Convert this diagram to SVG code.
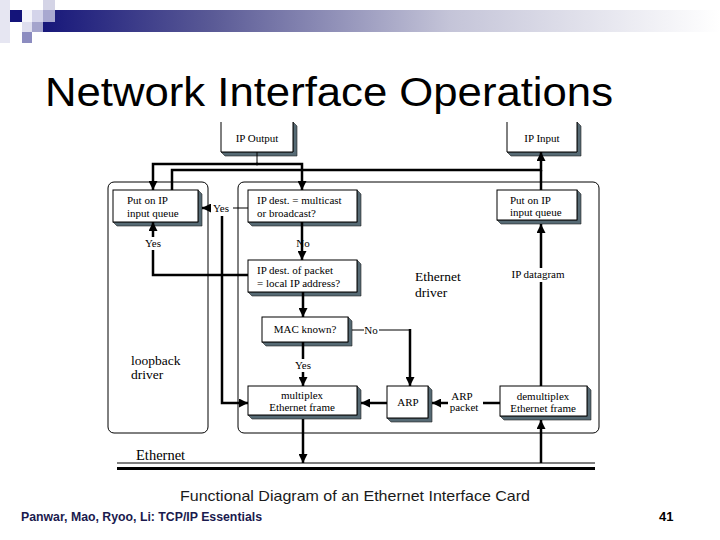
<svg xmlns="http://www.w3.org/2000/svg" width="720" height="540" viewBox="0 0 720 540">
<defs>
<linearGradient id="bar" x1="0" y1="0" x2="1" y2="0">
<stop offset="0" stop-color="#17177a"/>
<stop offset="0.25" stop-color="#5a5a96"/>
<stop offset="0.6" stop-color="#c4c4d8"/>
<stop offset="1" stop-color="#ffffff"/>
</linearGradient>
<marker id="ah" viewBox="0 0 10 10" refX="10" refY="5" markerWidth="9" markerHeight="9" markerUnits="userSpaceOnUse" orient="auto">
<path d="M0,0 L10,5 L0,10 z" fill="#000"/>
</marker>
</defs>
<style>
.box{fill:#fff;stroke:#000;stroke-width:1}
.sh{fill:#566a74;stroke:#222;stroke-width:0.6}
.cont{fill:none;stroke:#000;stroke-width:1}
.t{font-family:"Liberation Serif",serif;font-size:11px;fill:#000}
.tl{font-family:"Liberation Serif",serif;font-size:13.5px;fill:#000}
.thick{fill:none;stroke:#000;stroke-width:2.5}
.thin{fill:none;stroke:#000;stroke-width:1}
</style>
<rect width="720" height="540" fill="#fff"/>
<g id="header">
<rect x="43" y="10" width="677" height="22" fill="url(#bar)"/>
<rect x="0" y="0" width="10" height="43" fill="#e6e6f2"/>
<rect x="10" y="10" width="12" height="12" fill="#14147a"/>
<rect x="22" y="10" width="10" height="12" fill="#f4f4fa"/>
<rect x="32" y="10" width="11" height="12" fill="#d4d4ea"/>
<rect x="43" y="0" width="12" height="10" fill="#d4d4e6"/>
<rect x="43" y="10" width="12" height="12" fill="#a8a8d0"/>
<rect x="32" y="22" width="11" height="10" fill="#a4a4cc"/>
<rect x="22" y="22" width="10" height="10" fill="#dedeee"/>
<rect x="22" y="32" width="10" height="11" fill="#8c8cc0"/>
</g>
<text x="45" y="106" font-family="Liberation Sans, Arial, sans-serif" font-size="41" textLength="568" lengthAdjust="spacingAndGlyphs" fill="#000">Network Interface Operations</text>

<g id="loopback-driver">
<rect class="cont" x="108" y="182" width="100" height="251" rx="6"/>
<text class="tl" x="131" y="365">loopback</text>
<text class="tl" x="131" y="379">driver</text>
</g>
<g id="ethernet-driver">
<rect class="cont" x="238" y="182" width="361" height="251" rx="6"/>
<text class="tl" x="415" y="281">Ethernet</text>
<text class="tl" x="415" y="297">driver</text>
</g>

<g id="ip-output">
<polygon class="sh" points="293,122 297,126 297,156 225,156 221,152 293,152"/>
<path class="box" d="M221,122 V152 H293 V122"/>
<text class="t" x="257" y="142" text-anchor="middle">IP Output</text>
</g>
<g id="ip-input">
<polygon class="sh" points="577,122 581,126 581,156 511,156 507,152 577,152"/>
<path class="box" d="M507,122 V152 H577 V122"/>
<text class="t" x="542" y="142" text-anchor="middle">IP Input</text>
</g>
<g id="loop-queue">
<polygon class="sh" points="198,190 202,194 202,226 117,226 113,222 198,222"/>
<rect class="box" x="113" y="190" width="85" height="32"/>
<text class="t" x="127" y="204">Put on IP</text>
<text class="t" x="127" y="217">input queue</text>
</g>
<g id="multicast">
<polygon class="sh" points="357,190 361,194 361,226 252,226 248,222 357,222"/>
<rect class="box" x="248" y="190" width="109" height="32"/>
<text class="t" x="257" y="204">IP dest. = multicast</text>
<text class="t" x="257" y="217">or broadcast?</text>
</g>
<g id="local-ip">
<polygon class="sh" points="357,260 361,264 361,296 252,296 248,292 357,292"/>
<rect class="box" x="248" y="260" width="109" height="32"/>
<text class="t" x="257" y="274">IP dest. of packet</text>
<text class="t" x="257" y="287">= local IP address?</text>
</g>
<g id="mac-known">
<polygon class="sh" points="348,317 352,321 352,346 266,346 262,342 348,342"/>
<rect class="box" x="262" y="317" width="86" height="25"/>
<text class="t" x="305" y="333" text-anchor="middle">MAC known?</text>
</g>
<g id="multiplex">
<polygon class="sh" points="357,386 361,390 361,419 252,419 248,415 357,415"/>
<rect class="box" x="248" y="386" width="109" height="29"/>
<text class="t" x="302" y="399" text-anchor="middle">multiplex</text>
<text class="t" x="302" y="411" text-anchor="middle">Ethernet frame</text>
</g>
<g id="arp">
<polygon class="sh" points="428,386 432,390 432,422 391,422 387,418 428,418"/>
<rect class="box" x="387" y="386" width="41" height="32"/>
<text class="t" x="408" y="406" text-anchor="middle">ARP</text>
</g>
<g id="demultiplex">
<polygon class="sh" points="587,386 591,390 591,420 504,420 500,416 587,416"/>
<rect class="box" x="500" y="386" width="87" height="30"/>
<text class="t" x="543" y="400" text-anchor="middle">demultiplex</text>
<text class="t" x="543" y="412" text-anchor="middle">Ethernet frame</text>
</g>
<g id="eth-queue">
<polygon class="sh" points="577,190 581,194 581,224 501,224 497,220 577,220"/>
<rect class="box" x="497" y="190" width="80" height="30"/>
<text class="t" x="510" y="204">Put on IP</text>
<text class="t" x="510" y="216">input queue</text>
</g>
<g id="ethernet">
<text x="136" y="460" font-family="Liberation Serif, serif" font-size="14.5" fill="#000">Ethernet</text>
<line x1="117" y1="463" x2="595" y2="463" stroke="#000" stroke-width="1"/>
<line x1="117" y1="468.5" x2="595" y2="468.5" stroke="#000" stroke-width="3"/>
</g>

<g id="connectors">
<path class="thin" d="M257,152 V164"/>
<path class="thick" d="M258,164 H153 V190" marker-end="url(#ah)"/>
<path class="thick" d="M256,164 H302 V190" marker-end="url(#ah)"/>
<path class="thick" d="M172,190 V170 H541 V152" marker-end="url(#ah)"/>
<path class="thick" d="M541,190 V170"/>
<path class="thin" d="M248,208 H233"/>
<text class="t" x="221" y="212" text-anchor="middle">Yes</text>
<path class="thick" d="M211,208 H202" marker-end="url(#ah)"/>
<path class="thick" d="M222,216 V403 H248" marker-end="url(#ah)"/>
<path class="thick" d="M302,222 V260" marker-end="url(#ah)"/>
<text class="t" x="303" y="247" text-anchor="middle">No</text>
<path class="thick" d="M248,275 H153 V250"/>
<text class="t" x="153" y="247" text-anchor="middle">Yes</text>
<path class="thick" d="M153,237 V222" marker-end="url(#ah)"/>
<path class="thick" d="M303,292 V317" marker-end="url(#ah)"/>
<path class="thick" d="M303,342 V359"/>
<text class="t" x="303" y="369" text-anchor="middle">Yes</text>
<path class="thick" d="M303,372 V386" marker-end="url(#ah)"/>
<path class="thin" d="M352,330 H364"/>
<text class="t" x="371" y="334" text-anchor="middle">No</text>
<path class="thin" d="M379,330 H410"/>
<path class="thick" d="M410,329 V386" marker-end="url(#ah)"/>
<path class="thick" d="M387,403 H361" marker-end="url(#ah)"/>
<path class="thick" d="M500,403 H483"/>
<text class="t" x="462" y="400" text-anchor="middle">ARP</text>
<text class="t" x="464" y="411" text-anchor="middle">packet</text>
<path class="thick" d="M448,403 H432" marker-end="url(#ah)"/>
<path class="thick" d="M303,419 V463" marker-end="url(#ah)"/>
<path class="thick" d="M541,463 V420" marker-end="url(#ah)"/>
<path class="thick" d="M541,386 V282"/>
<text class="t" x="538" y="278" text-anchor="middle">IP datagram</text>
<path class="thick" d="M541,268 V224" marker-end="url(#ah)"/>
</g>

<text x="355" y="501" text-anchor="middle" font-family="Liberation Sans, Arial, sans-serif" font-size="15" textLength="350" lengthAdjust="spacingAndGlyphs" fill="#1a1a1a">Functional Diagram of an Ethernet Interface Card</text>
<text x="21" y="521" font-family="Liberation Sans, Arial, sans-serif" font-size="12" font-weight="bold" textLength="241" lengthAdjust="spacingAndGlyphs" fill="#1a1a4e">Panwar, Mao, Ryoo, Li: TCP/IP Essentials</text>
<text x="659" y="521" font-family="Liberation Sans, Arial, sans-serif" font-size="13" font-weight="bold" fill="#000">41</text>
</svg>
